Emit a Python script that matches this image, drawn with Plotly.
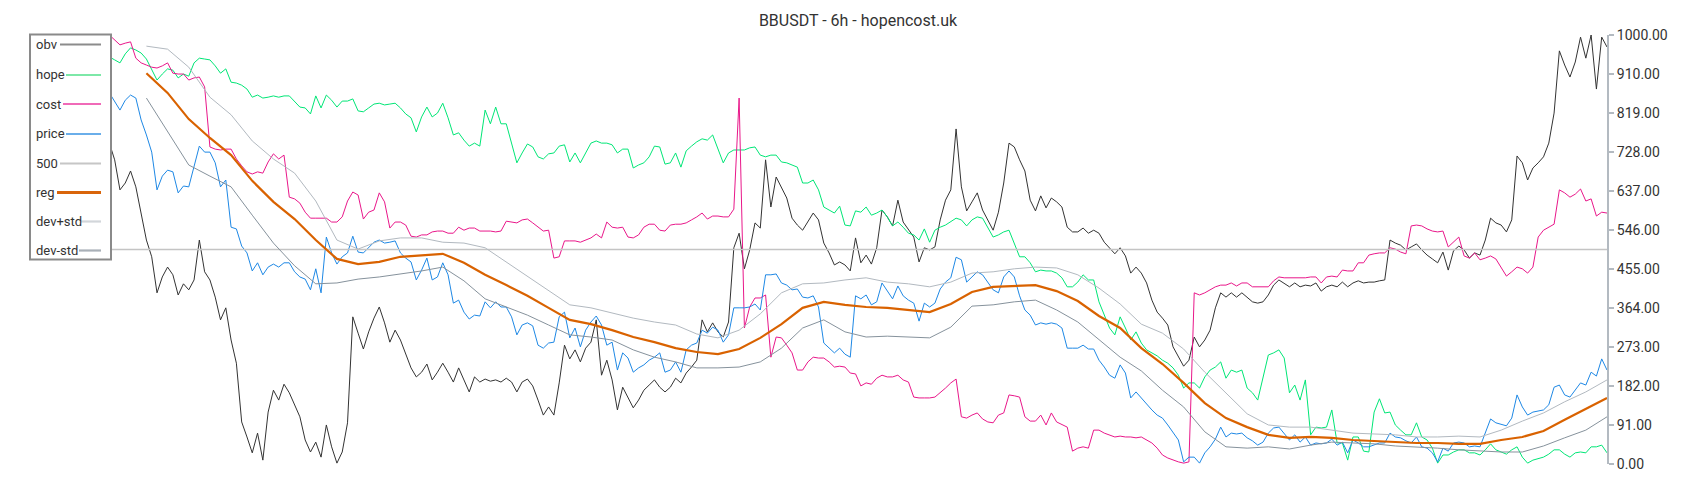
import plotly.graph_objects as go

# ---------------- data (normalised 0..1000 scale) ----------------
obv = [
    853, 825, 839, 820, 830, 813, 825, 806,
    820, 802, 811, 790, 802, 778, 767, 748, 709, 639,
    655, 683, 646, 585, 522, 483, 399, 436, 459, 441,
    394, 420, 406, 429, 522, 448, 429, 389, 336, 364,
    289, 235, 98, 63, 26, 72, 9, 121, 172, 149,
    186, 166, 138, 110, 56, 28, 51, 16, 91, 40,
    2, 28, 96, 343, 305, 268, 308, 340, 366, 329,
    284, 312, 289, 254, 224, 203, 214, 233, 196, 214,
    235, 214, 191, 224, 196, 168, 203, 191, 198, 193,
    196, 191, 200, 191, 168, 191, 198, 182, 149, 114,
    133, 114, 189, 277, 245, 266, 238, 270, 284, 336,
    207, 242, 196, 126, 179, 156, 131, 149, 172, 184,
    196, 179, 168, 179, 200, 189, 212, 226, 242, 336,
    308, 329, 308, 296, 331, 504, 538, 455, 499, 562,
    550, 709, 599, 669, 646, 620, 573, 557, 545, 564,
    585, 569, 515, 492, 464, 471, 464, 450, 527, 469,
    487, 466, 504, 592, 576, 555, 615, 564, 545, 529,
    471, 504, 499, 506, 569, 615, 639, 781, 646, 590,
    611, 632, 592, 569, 545, 587, 655, 748, 739, 709,
    683, 615, 590, 625, 597, 620, 611, 599, 552, 541,
    541, 550, 538, 545, 538, 517, 504, 490, 504, 485,
    445, 459, 445, 422, 382, 354, 340, 324, 273, 249,
    228, 242, 296, 273, 289, 312, 364, 399, 389, 399,
    389, 399, 389, 378, 375, 378, 394, 417, 429, 420,
    413, 422, 413, 417, 415, 422, 403, 413, 417, 413,
    424, 413, 422, 427, 422, 424, 424, 427, 429, 522,
    515, 510, 499, 506, 513, 499, 487, 478, 469, 494,
    452, 497, 508, 499, 480, 492, 487, 522, 573, 562,
    557, 541, 569, 718, 702, 662, 690, 702, 716, 748,
    818, 963, 930, 902, 937, 995, 946, 1000, 874, 995,
    972,
]

hope = [
    984, 965, 974, 960, 970, 979, 965, 972,
    958, 967, 953, 963, 951, 958, 953, 949, 942, 935,
    956, 970, 965, 958, 944, 918, 895, 909, 921, 918,
    900, 909, 904, 935, 946, 944, 942, 928, 911, 921,
    890, 888, 883, 874, 855, 860, 853, 855, 858, 855,
    858, 858, 844, 832, 830, 816, 858, 830, 860, 848,
    832, 846, 846, 851, 823, 821, 830, 839, 841, 837,
    839, 841, 830, 816, 807, 774, 809, 832, 809, 818,
    841, 807, 767, 772, 755, 741, 748, 741, 825, 793,
    832, 793, 793, 748, 702, 725, 746, 739, 716, 711,
    723, 725, 741, 744, 704, 725, 702, 725, 748, 753,
    748, 748, 744, 725, 734, 734, 690, 697, 702, 716,
    741, 739, 699, 702, 725, 692, 730, 741, 751, 758,
    755, 767, 732, 702, 725, 732, 732, 732, 737, 739,
    720, 716, 720, 720, 704, 702, 697, 692, 655, 655,
    662, 639, 599, 592, 585, 601, 557, 555, 590, 587,
    599, 580, 585, 592, 576, 555, 564, 552, 538, 534,
    522, 548, 517, 545, 552, 557, 564, 573, 569, 555,
    569, 576, 573, 552, 529, 534, 541, 545, 515, 483,
    483, 469, 448, 452, 450, 450, 445, 434, 413, 413,
    424, 441, 429, 429, 378, 347, 317, 301, 343, 317,
    289, 308, 282, 266, 259, 252, 242, 235, 224, 207,
    177, 189, 189, 177, 203, 219, 226, 238, 200, 219,
    214, 219, 177, 166, 149, 203, 254, 259, 266, 247,
    166, 184, 149, 196, 68, 86, 84, 86, 126, 49,
    49, 9, 63, 63, 30, 28, 121, 152, 119, 121,
    91, 79, 68, 68, 96, 63, 56, 37, 2, 21,
    21, 28, 33, 33, 26, 26, 21, 33, 47, 33,
    28, 23, 33, 40, 16, 2, 9, 12, 16, 23,
    33, 33, 23, 16, 26, 28, 26, 40, 40, 44,
    26,
]

cost = [
    984, 995, 988, 998, 991, 993, 986, 995,
    988, 993, 998, 991, 995, 993, 998, 1000, 988, 977,
    981, 984, 946, 935, 930, 925, 923, 928, 935, 911,
    909, 909, 895, 900, 902, 879, 739, 734, 732, 734,
    734, 711, 695, 681, 676, 681, 678, 704, 723, 711,
    720, 622, 618, 608, 587, 573, 573, 573, 573, 564,
    564, 576, 613, 634, 627, 571, 587, 592, 632, 611,
    550, 564, 564, 557, 531, 529, 534, 534, 541, 543,
    543, 538, 538, 552, 545, 550, 550, 543, 543, 543,
    541, 543, 566, 564, 562, 569, 571, 562, 552, 543,
    545, 480, 483, 520, 520, 520, 517, 522, 527, 536,
    527, 564, 552, 550, 552, 529, 527, 534, 552, 559,
    559, 545, 543, 557, 559, 559, 562, 569, 576, 585,
    571, 578, 578, 576, 576, 594, 853, 317, 366, 387,
    387, 394, 249, 296, 294, 277, 259, 219, 219, 238,
    249, 247, 247, 238, 226, 228, 226, 212, 210, 182,
    189, 186, 200, 207, 203, 203, 207, 196, 191, 156,
    154, 154, 154, 156, 166, 177, 189, 198, 110, 107,
    114, 119, 105, 98, 96, 114, 119, 161, 159, 156,
    110, 100, 100, 114, 91, 119, 98, 91, 86, 30,
    37, 40, 37, 79, 79, 72, 68, 63, 65, 63,
    63, 61, 63, 56, 49, 37, 21, 14, 9, 5,
    2, 5, 399, 394, 399, 406, 413, 417, 417, 422,
    415, 422, 422, 413, 413, 413, 413, 427, 436, 434,
    434, 434, 434, 434, 436, 436, 422, 436, 438, 436,
    452, 450, 450, 469, 469, 487, 490, 492, 492, 504,
    501, 494, 490, 555, 557, 555, 548, 543, 541, 543,
    506, 517, 529, 485, 480, 492, 476, 480, 485, 478,
    457, 438, 448, 459, 455, 445, 459, 529, 545, 552,
    559, 639, 632, 622, 629, 641, 613, 618, 578, 587,
    585,
]

price = [
    937, 965, 946, 970, 960, 977, 984, 988,
    993, 1000, 977, 953, 930, 907, 883, 865, 844, 825,
    848, 860, 853, 802, 767, 727, 639, 671, 685, 681,
    632, 648, 646, 697, 741, 727, 727, 702, 646, 662,
    552, 548, 508, 492, 450, 469, 441, 459, 466, 459,
    469, 469, 448, 436, 431, 406, 455, 399, 529, 492,
    466, 483, 492, 531, 494, 492, 504, 517, 522, 515,
    517, 520, 492, 480, 471, 429, 452, 480, 429, 436,
    469, 441, 375, 382, 354, 338, 347, 345, 378, 364,
    378, 366, 366, 343, 301, 324, 329, 322, 277, 270,
    282, 284, 343, 354, 294, 317, 273, 312, 331, 345,
    324, 277, 284, 219, 259, 247, 214, 224, 231, 242,
    249, 259, 214, 219, 238, 214, 266, 277, 282, 312,
    305, 319, 312, 284, 301, 364, 364, 364, 366, 373,
    359, 441, 441, 443, 422, 417, 406, 408, 389, 387,
    392, 366, 282, 270, 259, 270, 256, 249, 392, 385,
    394, 371, 378, 422, 403, 385, 415, 392, 382, 375,
    333, 375, 366, 375, 408, 424, 434, 482, 476, 424,
    436, 448, 441, 424, 406, 399, 436, 450, 436, 392,
    359, 347, 324, 329, 326, 329, 326, 317, 270, 270,
    270, 277, 268, 268, 242, 226, 207, 200, 231, 212,
    154, 168, 154, 138, 126, 114, 107, 91, 72, 56,
    5, 16, 16, 2, 26, 40, 58, 86, 63, 72,
    70, 72, 61, 54, 44, 51, 72, 84, 86, 72,
    56, 68, 51, 63, 44, 49, 47, 49, 58, 44,
    51, 26, 56, 49, 40, 40, 44, 49, 49, 72,
    63, 61, 54, 49, 63, 40, 37, 26, 5, 37,
    30, 49, 51, 49, 40, 42, 40, 72, 105, 96,
    93, 89, 107, 161, 133, 114, 121, 124, 126, 138,
    179, 184, 161, 156, 172, 189, 184, 214, 205, 245,
    219,
]

N = len(obv)  # 299 candles
idx = list(range(N))

level_x = [0, N - 1]
level_500 = [500, 500]

band_idx = list(range(22, N, 4))
reg = [
    911, 865, 804, 760, 720, 660, 611, 571, 522, 478,
    466, 471, 483, 487, 490, 469, 441, 417, 392, 364,
    336, 326, 312, 296, 284, 270, 261, 256, 268, 294,
    326, 364, 378, 371, 366, 364, 359, 354, 373, 401,
    413, 415, 417, 403, 380, 345, 317, 270, 233, 189,
    142, 107, 86, 68, 61, 63, 61, 56, 54, 51,
    49, 49, 47, 47, 56, 63, 77, 103, 128, 154,
]
dev_plus = [
    974, 967, 925, 855, 814, 753, 711, 678, 613, 522,
    501, 520, 527, 527, 517, 515, 504, 471, 438, 406,
    371, 364, 352, 340, 331, 324, 303, 294, 312, 350,
    399, 420, 422, 429, 434, 424, 420, 413, 424, 445,
    448, 455, 459, 457, 441, 410, 373, 326, 305, 268,
    214, 166, 117, 91, 86, 86, 79, 72, 70, 68,
    63, 63, 65, 63, 79, 100, 119, 145, 168, 196,
]
dev_minus = [
    853, 774, 697, 671, 646, 580, 515, 462, 420, 422,
    431, 436, 443, 450, 459, 427, 385, 366, 347, 324,
    301, 296, 289, 266, 249, 238, 224, 224, 226, 238,
    270, 317, 336, 308, 296, 298, 296, 294, 319, 368,
    371, 378, 382, 359, 331, 289, 249, 217, 172, 133,
    75, 40, 37, 40, 35, 44, 51, 49, 47, 42,
    40, 37, 33, 30, 28, 28, 42, 61, 79, 110,
]

y_ticks = [0, 91, 182, 273, 364, 455, 546, 637, 728, 819, 910, 1000]
names = ["obv", "hope", "cost", "price", "500", "reg", "dev+std", "dev-std"]

# ---------------- styles ----------------
line_colors = ["#333333", "#00e676", "#e9178a", "#1e88e5", "#c4c4c4", "#d96200", "#b2b9c0", "#86929c"]
line_widths = [1, 1, 1, 1, 1.6, 2.2, 1, 1]
legend_colors = ["#8c8c8c", "#7de8a8", "#f06ab8", "#6aaeea", "#c6c6c6", "#d9650a", "#d2d6da", "#a9b0b7"]
# legend geometry in figure pixels
legend_line_start = [52, 58, 55, 58, 52, 49, 73, 71]
legend_rows = [36.5, 67, 96, 126, 155.5, 184.5, 213.5, 242.5]

series = [
    (idx, obv), (idx, hope), (idx, cost), (idx, price),
    (level_x, level_500), (band_idx, reg), (band_idx, dev_plus), (band_idx, dev_minus),
]

fig = go.Figure()
for (xs, ys), nm, col, w in zip(series, names, line_colors, line_widths):
    fig.add_trace(go.Scatter(x=xs, y=ys, mode="lines", name=nm,
                             line=dict(color=col, width=w), hoverinfo="skip"))

# plot-area geometry in figure pixels
L, R, T, B = 22, 1599, 27, 456


def px(xp):
    return (xp - L) / (R - L)


def py(yp):
    return (B - yp) / (B - T)


shapes = [dict(type="rect", xref="paper", yref="paper",
               x0=px(22), x1=px(103), y0=py(251.5), y1=py(26.5),
               fillcolor="white", line=dict(color="#8a8a8a", width=2), layer="above")]
annotations = []
for nm, col, xs0, yr in zip(names, legend_colors, legend_line_start, legend_rows):
    shapes.append(dict(type="line", xref="paper", yref="paper",
                       x0=px(xs0), x1=px(93), y0=py(yr), y1=py(yr),
                       line=dict(color=col, width=3 if nm == "reg" else 2.2), layer="above"))
    annotations.append(dict(text=nm, xref="paper", yref="paper", x=px(26), y=py(yr),
                            xanchor="left", yanchor="middle", showarrow=False,
                            font=dict(family="Roboto", size=13, color="#333333")))

fig.update_layout(
    width=1700, height=500,
    margin=dict(l=L, r=1700 - R, t=T, b=500 - B),
    paper_bgcolor="white", plot_bgcolor="white",
    showlegend=False,
    title=dict(text="BBUSDT - 6h - hopencost.uk", x=0.5, xanchor="center",
               y=0.976, yanchor="middle",
               font=dict(family="Roboto", size=16, color="#333333")),
    xaxis=dict(visible=False, range=[0, N - 1]),
    yaxis=dict(side="right", range=[0, 1000], tickmode="array", tickvals=y_ticks,
               ticktext=[f"{t:.2f}" for t in y_ticks], showgrid=False, zeroline=False,
               showline=True, linecolor="#b3bac1", linewidth=2, ticks="outside",
               ticklen=5, tickwidth=1.5, tickcolor="#b3bac1",
               tickfont=dict(family="Roboto", size=14, color="#333333")),
    shapes=shapes,
    annotations=annotations,
)

fig.write_html("out.html")
